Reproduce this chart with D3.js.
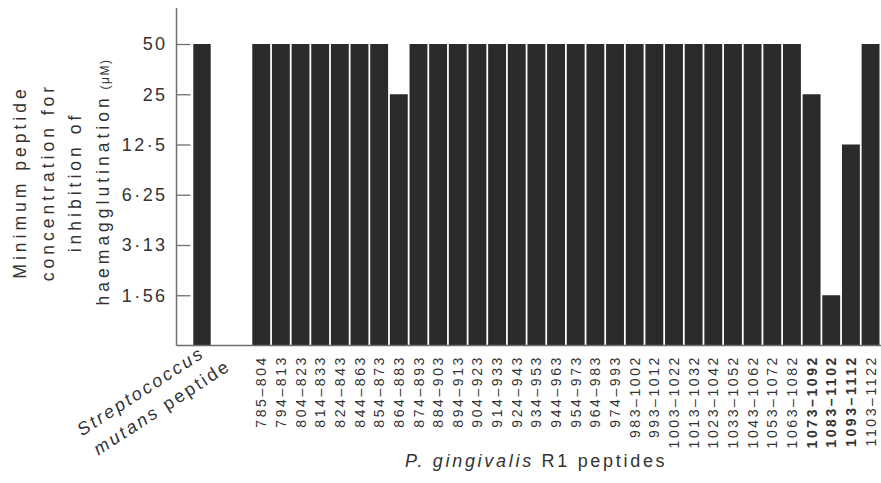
<!DOCTYPE html>
<html>
<head>
<meta charset="utf-8">
<script src="https://cdn.jsdelivr.net/npm/d3@7"></script>
<style>
  body { margin: 0; background: #fff; }
  svg { display: block; font-family: "Liberation Sans", Arial, sans-serif; }
</style>
</head>
<body>
<svg id="chart" width="881" height="483"></svg>
<script>
// peptides R1 de P. gingivalis (834-853 absent dans la figure)
const peptides = [
  "785–804", "794–813", "804–823", "814–833", "824–843", "844–863", "854–873",
  "864–883", "874–893", "884–903", "894–913", "904–923", "914–933", "924–943",
  "934–953", "944–963", "954–973", "964–983", "974–993", "983–1002", "993–1012",
  "1003–1022", "1013–1032", "1023–1042", "1033–1052", "1043–1062", "1053–1072",
  "1063–1082", "1073–1092", "1083–1102", "1093–1112", "1103–1122"
];
const peptideValues = [
  50, 50, 50, 50, 50, 50, 50,
  25, 50, 50, 50, 50, 50, 50,
  50, 50, 50, 50, 50, 50, 50,
  50, 50, 50, 50, 50, 50,
  50, 25, 1.5625, 12.5, 50
];
const boldPeptides = ["1073–1092", "1083–1102", "1093–1112"];
const controlName = "Streptococcus mutans peptide";
const controlValue = 50;
const yTicks = [50, 25, 12.5, 6.25, 3.125, 1.5625];
const yTickLabels = ["50", "25", "12·5", "6·25", "3·13", "1·56"];

const svg = d3.select("#chart");
const axisLeft = 176.5, baseY = 345.5, topY = 8;
const barColor = "#2a2a2a", axisColor = "#6e6e6e", textColor = "#333";

// échelle log base 2 : un doublement = ~50 px
const y = d3.scaleLog().base(2)
  .domain([0.78125, 50])
  .range([baseY, 44]);

// la bande contient le témoin, deux cases vides, puis les peptides
const x = d3.scaleBand()
  .domain([controlName, "gap1", "gap2", ...peptides])
  .range([193.3, 879.5])
  .paddingInner(0.09)
  .paddingOuter(0);

const bars = [{ name: controlName, value: controlValue }]
  .concat(peptides.map((p, i) => ({ name: p, value: peptideValues[i] })));

svg.append("g")
  .selectAll("rect")
  .data(bars)
  .enter()
  .append("rect")
  .attr("x", (d) => x(d.name))
  .attr("y", (d) => y(d.value))
  .attr("width", (d) => (d.name === controlName ? x.bandwidth() - 0.5 : x.bandwidth()))
  .attr("height", (d) => baseY - y(d.value))
  .attr("fill", barColor);

// axes
svg.append("line")
  .attr("x1", axisLeft).attr("x2", axisLeft)
  .attr("y1", topY).attr("y2", baseY)
  .attr("stroke", axisColor).attr("stroke-width", 1.5);
svg.append("line")
  .attr("x1", axisLeft).attr("x2", 881)
  .attr("y1", baseY).attr("y2", baseY)
  .attr("stroke", axisColor).attr("stroke-width", 1.5);

const yAxis = d3.axisRight(y)
  .tickValues(yTicks)
  .tickSize(14)
  .tickFormat((d, i) => yTickLabels[i]);

const gy = svg.append("g")
  .attr("transform", `translate(${axisLeft},0)`)
  .call(yAxis);
gy.select(".domain").remove();
gy.selectAll(".tick line").attr("stroke", axisColor).attr("stroke-width", 1.3);
gy.selectAll(".tick text")
  .attr("x", -9)
  .attr("text-anchor", "end")
  .attr("fill", textColor)
  .style("font-size", "18px")
  .style("letter-spacing", "2.4px");

// étiquettes des peptides, verticales
svg.append("g")
  .selectAll("text")
  .data(peptides)
  .enter()
  .append("text")
  .attr("transform", (d) => `translate(${x(d) + x.bandwidth() / 2},355) rotate(-90)`)
  .attr("dy", "0.36em")
  .attr("text-anchor", "end")
  .attr("fill", textColor)
  .style("font-size", "14px")
  .style("letter-spacing", "2.6px")
  .style("font-weight", (d) => (boldPeptides.includes(d) ? "bold" : "normal"))
  .text((d) => d);

// titre de l'axe y (4 lignes)
const yTitle = [
  ["Minimum peptide", 26],
  ["concentration for", 54],
  ["inhibition of", 81],
  ["haemagglutination", 109]
];
yTitle.forEach(([t, bx], i) => {
  const txt = svg.append("text")
    .attr("transform", `translate(${bx},182) rotate(-90)`)
    .attr("text-anchor", "middle")
    .attr("fill", textColor)
    .style("font-size", "17.5px")
    .style("letter-spacing", "4px")
    .text(t);
  if (i === 3) {
    txt.append("tspan").style("font-size", "12px").style("letter-spacing", "1.5px").text(" (μM)");
  }
});

// titre de l'axe x
const xTitle = svg.append("text")
  .attr("x", 405)
  .attr("y", 467)
  .attr("fill", textColor)
  .style("font-size", "18px")
  .style("letter-spacing", "2.7px");
xTitle.append("tspan").style("font-style", "italic").text("P. gingivalis");
xTitle.append("tspan").text(" R1 peptides");

// étiquette du témoin, en biais
const ctrl = svg.append("g").attr("transform", "translate(206,356) rotate(-33)");
ctrl.append("text")
  .attr("text-anchor", "end")
  .attr("fill", textColor)
  .style("font-size", "18px")
  .style("letter-spacing", "2.6px")
  .style("font-style", "italic")
  .text("Streptococcus");
const ctrl2 = ctrl.append("text")
  .attr("x", 15)
  .attr("y", 25)
  .attr("text-anchor", "end")
  .attr("fill", textColor)
  .style("font-size", "18px")
  .style("letter-spacing", "2.6px");
ctrl2.append("tspan").style("font-style", "italic").text("mutans");
ctrl2.append("tspan").text(" peptide");
</script>
</body>
</html>
